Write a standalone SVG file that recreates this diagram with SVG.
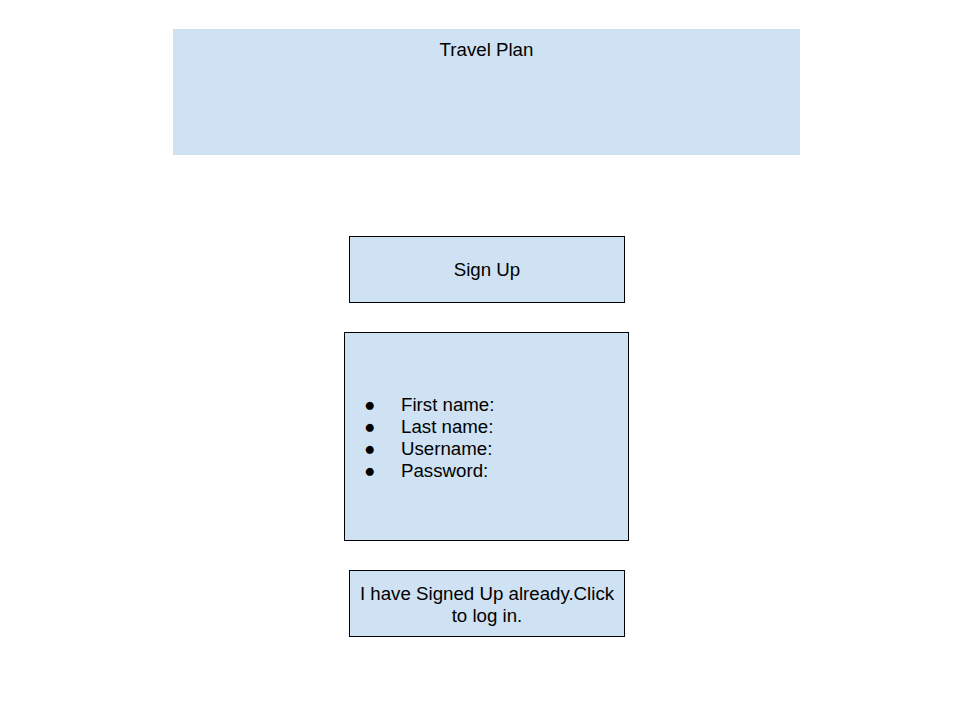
<svg xmlns="http://www.w3.org/2000/svg" width="960" height="720" viewBox="0 0 960 720">
<style>
.box{fill:#cfe2f3;stroke:#000;stroke-width:1}
.t{font-family:"Liberation Sans",Arial,sans-serif;font-size:18.7px;fill:#000}
.c{text-anchor:middle}
</style>
<rect width="960" height="720" fill="#fff"/>
<g id="title">
<rect x="173" y="29" width="627" height="126" fill="#cfe2f3"/>
<text class="t c" x="486.5" y="56">Travel Plan</text>
</g>
<g id="signup">
<rect class="box" x="349.5" y="236.5" width="275" height="66"/>
<text class="t c" x="487" y="276">Sign Up</text>
</g>
<g id="fields">
<rect class="box" x="344.5" y="332.5" width="284" height="208"/>
<text class="t" x="364" y="411">●</text>
<text class="t" x="401" y="411">First name:</text>
<text class="t" x="364" y="433">●</text>
<text class="t" x="401" y="433">Last name:</text>
<text class="t" x="364" y="455">●</text>
<text class="t" x="401" y="455">Username:</text>
<text class="t" x="364" y="477">●</text>
<text class="t" x="401" y="477">Password:</text>
</g>
<g id="login">
<rect class="box" x="349.5" y="570.5" width="275" height="66"/>
<text class="t c" x="487" y="600">I have Signed Up already.Click</text>
<text class="t c" x="487" y="622">to log in.</text>
</g>
<g id="connectors"/>
</svg>
